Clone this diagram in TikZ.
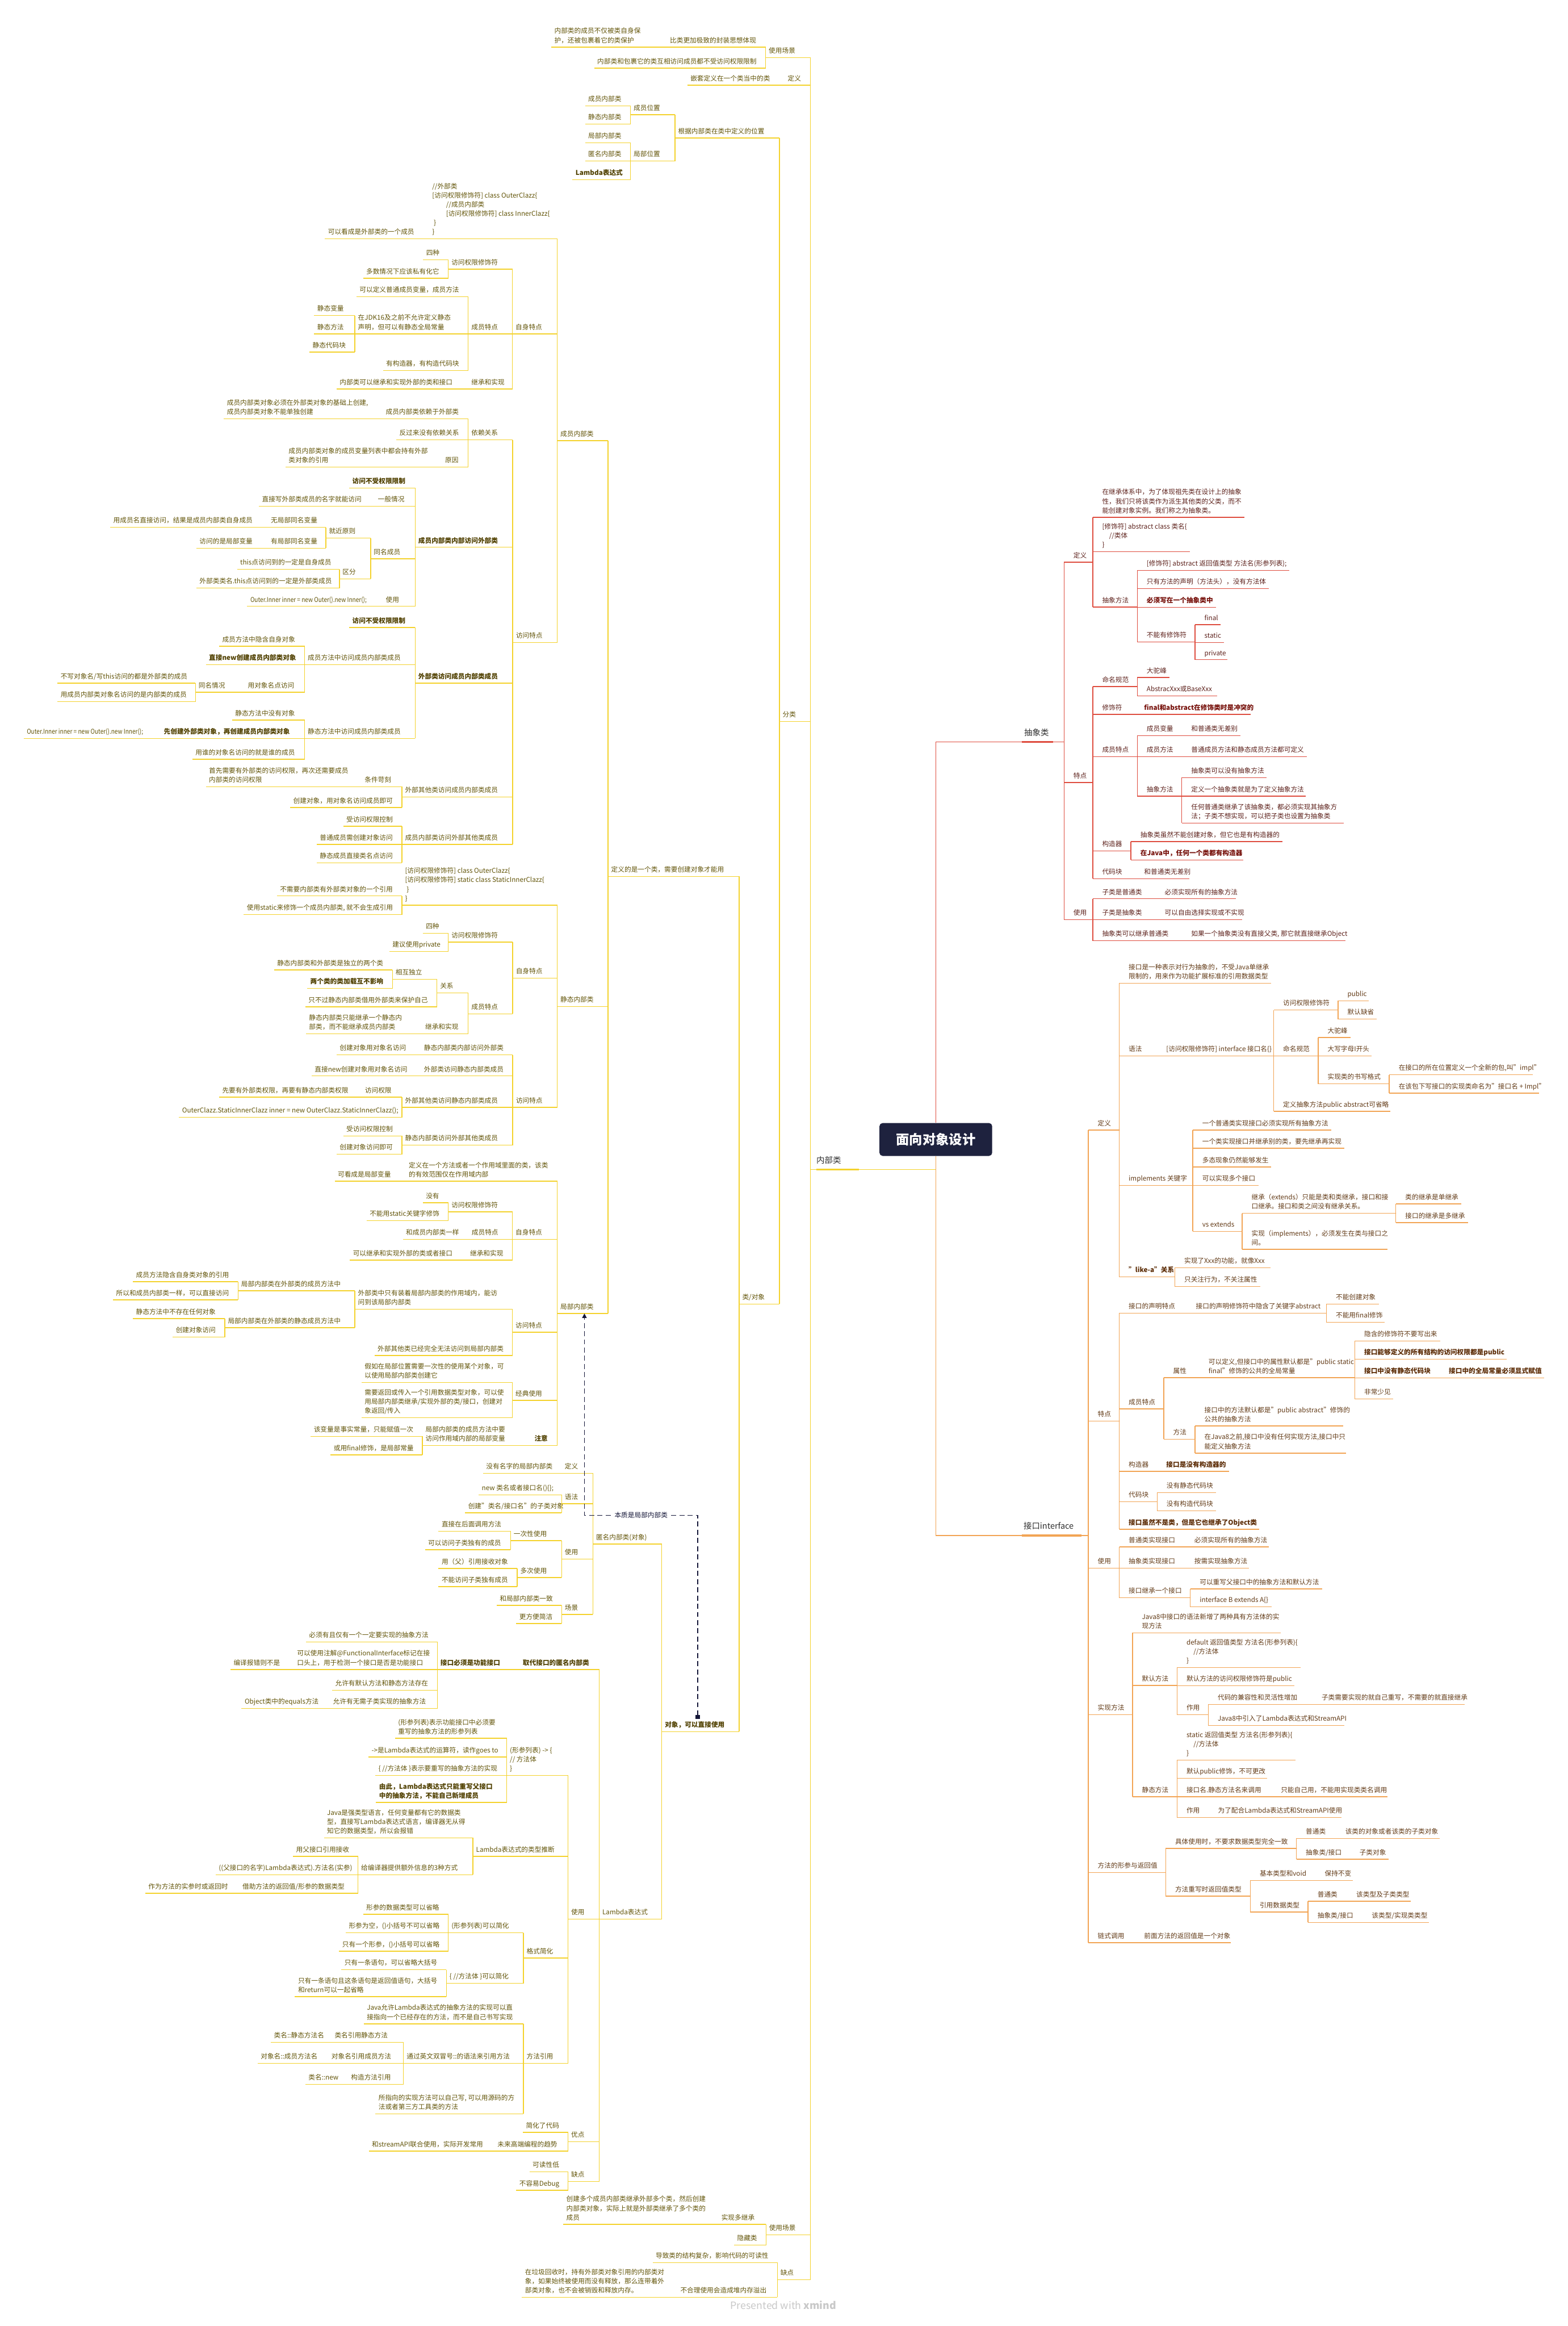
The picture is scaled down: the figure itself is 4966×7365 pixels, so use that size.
\documentclass[tikz,border=0pt]{standalone}
\usepackage{fontspec}
\usepackage{graphicx}
\setmainfont{Noto Sans CJK SC}
\usetikzlibrary{arrows.meta}
\definecolor{ltx}{RGB}{98,84,8}
\definecolor{ltbx}{RGB}{80,64,0}
\definecolor{ylw}{RGB}{244,210,44}
\definecolor{rtx}{RGB}{92,32,26}
\definecolor{rtbx}{RGB}{118,16,10}
\definecolor{rdl}{RGB}{222,76,62}
\definecolor{itx}{RGB}{98,58,22}
\definecolor{itbx}{RGB}{92,44,6}
\definecolor{orl}{RGB}{242,164,84}
\definecolor{rootc}{RGB}{30,34,62}
\definecolor{relc}{RGB}{20,22,56}
\definecolor{brx}{RGB}{45,45,45}
\definecolor{wmc}{RGB}{200,200,200}
\tikzset{
 base/.style={anchor=south west, inner xsep=0pt, inner ysep=1.06pt, outer sep=0pt, font=\fontsize{4.2pt}{5.8pt}\selectfont},
 lt/.style={base, text=ltx},
 ltb/.style={base, text=ltbx, font=\fontsize{4.2pt}{5.8pt}\selectfont\bfseries},
 rt/.style={base, text=rtx},
 rtb/.style={base, text=rtbx, font=\fontsize{4.2pt}{5.8pt}\selectfont\bfseries},
 it/.style={base, text=itx},
 itb/.style={base, text=itbx, font=\fontsize{4.2pt}{5.8pt}\selectfont\bfseries},
 lline/.style={draw=ylw, line width=0.5pt},
 rline/.style={draw=rdl, line width=0.5pt},
 iline/.style={draw=orl, line width=0.5pt},
 brn/.style={anchor=south west, inner xsep=0pt, inner ysep=4pt, outer sep=0pt, text depth=0pt, text=brx, font=\fontsize{5.2pt}{6pt}\selectfont},
 root/.style={fill=rootc, text=white, rounded corners=2pt, minimum width=71.4pt, minimum height=20.8pt, font=\fontsize{8.4pt}{10pt}\selectfont\bfseries},
 rel/.style={draw=relc, line width=0.6pt, dash pattern=on 3.2pt off 2pt, {Square[length=2.6pt,width=2.6pt]}-{Triangle[length=2.8pt,width=2.8pt]}},
 lbl/.style={fill=white, text=relc, inner sep=0.6pt, font=\fontsize{4.2pt}{5.8pt}\selectfont}
}
% left-tree node: style, name, parent, xl, xr, y, text
\newcommand\LNd[7]{\pgfmathsetmacro\mkw{(#5-#4-10)*0.2}%
 \node[#1] (#2) at (#4,#6) {\hspace*{2pt}\makebox[\mkw pt][l]{\begin{tabular}[b]{@{}l@{}}#7\end{tabular}}};%
 \draw[lline] (#2.south west) -- (#2.south east);%
 \draw[lline] (#2.south east) |- (#3.south west);}
% right-tree node: text style, line style, name, parent, xl, xr, y, text
\newcommand\RNd[8]{\pgfmathsetmacro\mkw{(#6-#5-30)*0.2}%
 \node[#1] (#3) at (#5,#7) {\hspace*{6pt}\makebox[\mkw pt][l]{\begin{tabular}[b]{@{}l@{}}#8\end{tabular}}};%
 \draw[#2] (#3.south west) -- (#3.south east);%
 \draw[#2] (#3.south west) |- (#4.south east);}
\newcommand\narrow[1]{\scalebox{0.86}[1]{#1}}
\begin{document}
\begin{tikzpicture}[x=0.2pt,y=-0.2pt]
\useasboundingbox (0,0) rectangle (4966,7365);
% root and main branches
\node[root] (root) at (2964,3608) {面向对象设计};
\node[brn] (I0) at (2567,3703) {\hspace*{3.8pt}\makebox[31.8pt][l]{内部类}};
\node[brn] (B0) at (3222,2349) {\hspace*{4.4pt}\makebox[25.2pt][l]{抽象类}};
\node[brn] (C0) at (3222,4862) {\hspace*{4pt}\makebox[41pt][l]{接口interface}};
\draw[lline] (I0.south west) -- (I0.south east);
\draw[ylw, line width=1.2pt] (I0.south west) ++(19,0) -- ++(135,0);
\draw[rline] (B0.south west) -- (B0.south east);
\draw[rdl, line width=1.2pt] (B0.south west) ++(14,0) -- ++(100,0);
\draw[iline] (C0.south west) -- (C0.south east);
\draw[orl, line width=1.2pt] (C0.south west) ++(14,0) -- ++(190,0);
\draw[lline] (root.south) |- (I0.south east);
\draw[rline] (root.north) |- (B0.south west);
\draw[iline] (root.south) |- (C0.south west);

% ===== 内部类 =====
\LNd{lt}{a1}{I0}{2425}{2567}{182}{使用场景}
\LNd{lt}{a1a}{a1}{2112}{2425}{149}{比类更加极致的封装思想体现}
\LNd{lt}{a1a1}{a1a}{1746}{2112}{149}{内部类的成员不仅被类自身保\\护，还被包裹着它的类保护}
\LNd{lt}{a1b}{a1}{1882}{2425}{216}{内部类和包裹它的类互相访问成员都不受访问权限限制}
\LNd{lt}{a2}{I0}{2485}{2567}{270}{定义}
\LNd{lt}{a2a}{a2}{2177}{2485}{270}{嵌套定义在一个类当中的类}
\LNd{lt}{a3}{I0}{2469}{2567}{2284}{分类}
\LNd{lt}{p0}{a3}{2138}{2469}{437}{根据内部类在类中定义的位置}
\LNd{lt}{p1}{p0}{1997}{2138}{363}{成员位置}
\LNd{lt}{p1a}{p1}{1853}{1997}{335}{成员内部类}
\LNd{lt}{p1b}{p1}{1853}{1997}{393}{静态内部类}
\LNd{lt}{p2}{p0}{1997}{2138}{510}{局部位置}
\LNd{lt}{p2a}{p2}{1853}{1997}{452}{局部内部类}
\LNd{lt}{p2b}{p2}{1853}{1997}{510}{匿名内部类}
\LNd{ltb}{p2c}{p2}{1813}{1997}{569}{Lambda表达式}
\LNd{lt}{q0}{a3}{2341}{2469}{4129}{类/对象}
\LNd{lt}{q1}{q0}{1926}{2341}{2775}{定义的是一个类，需要创建对象才能用}
\LNd{ltb}{q2}{q0}{2096}{2341}{5483}{对象，可以直接使用}
\LNd{lt}{M}{q1}{1765}{1926}{1395}{成员内部类}
\LNd{lt}{S}{q1}{1765}{1926}{3187}{静态内部类}
\LNd{lt}{L}{q1}{1765}{1926}{4159}{局部内部类}
\LNd{lt}{N}{q2}{1878}{2096}{4889}{匿名内部类(对象)}
\LNd{lt}{Lm}{q2}{1898}{2096}{6077}{Lambda表达式}
\LNd{lt}{a4}{I0}{2426}{2567}{7076}{使用场景}
\LNd{lt}{a4a}{a4}{2275}{2426}{7043}{实现多继承}
\LNd{lt}{a4a1}{a4a}{1784}{2275}{7043}{创建多个成员内部类继承外部多个类，然后创建\\内部类对象，实际上就是外部类继承了多个类的\\成员}
\LNd{lt}{a4b}{a4}{2325}{2426}{7109}{隐藏类}
\LNd{lt}{a5}{I0}{2462}{2567}{7218}{缺点}
\LNd{lt}{a5a}{a5}{2067}{2462}{7164}{导致类的结构复杂，影响代码的可读性}
\LNd{lt}{a5b}{a5}{2145}{2462}{7274}{不合理使用会造成堆内存溢出}
\LNd{lt}{a5b1}{a5b}{1653}{2145}{7274}{在垃圾回收时，持有外部类对象引用的内部类对\\象，如果始终被使用而没有释放，那么连带着外\\部类对象，也不会被销毁和释放内存。}

% 成员内部类
\LNd{lt}{m1}{M}{1359}{1765}{756}{//外部类\\{}[访问权限修饰符] class OuterClazz\{\\\hspace*{8.8pt}//成员内部类\\\hspace*{8.8pt}[访问权限修饰符] class InnerClazz\{\\\hspace*{1pt}\}\\\}}
\LNd{lt}{m1a}{m1}{1029}{1359}{756}{可以看成是外部类的一个成员}
\LNd{lt}{m2}{M}{1623}{1765}{1057}{自身特点}
\LNd{lt}{m2a}{m2}{1420}{1623}{852}{访问权限修饰符}
\LNd{lt}{m2a1}{m2a}{1340}{1420}{823}{四种}
\LNd{lt}{m2a2}{m2a}{1150}{1420}{881}{多数情况下应该私有化它}
\LNd{lt}{m2b}{m2}{1483}{1623}{1057}{成员特点}
\LNd{lt}{m2b1}{m2b}{1129}{1483}{940}{可以定义普通成员变量，成员方法}
\LNd{lt}{m2b2}{m2b}{1124}{1483}{1057}{在JDK16及之前不允许定义静态\\声明，但可以有静态全局常量}
\LNd{lt}{m2b2a}{m2b2}{995}{1124}{999}{静态变量}
\LNd{lt}{m2b2b}{m2b2}{995}{1124}{1057}{静态方法}
\LNd{lt}{m2b2c}{m2b2}{980}{1124}{1115}{静态代码块}
\LNd{lt}{m2b3}{m2b}{1213}{1483}{1173}{有构造器，有构造代码块}
\LNd{lt}{m2c}{m2}{1483}{1623}{1232}{继承和实现}
\LNd{lt}{m2c1}{m2c}{1066}{1483}{1232}{内部类可以继承和实现外部的类和接口}
\LNd{lt}{m3}{M}{1624}{1765}{2034}{访问特点}
\LNd{lt}{m3a}{m3}{1483}{1624}{1393}{依赖关系}
\LNd{lt}{m3a1}{m3a}{1212}{1483}{1326}{成员内部类依赖于外部类}
\LNd{lt}{m3a1a}{m3a1}{709}{1212}{1326}{成员内部类对象必须在外部类对象的基础上创建,\\成员内部类对象不能单独创建}
\LNd{lt}{m3a2}{m3a}{1255}{1483}{1393}{反过来没有依赖关系}
\LNd{lt}{m3a3}{m3a}{1400}{1483}{1479}{原因}
\LNd{lt}{m3a3a}{m3a3}{904}{1400}{1479}{成员内部类对象的成员变量列表中都会持有外部\\类对象的引用}
\LNd{ltb}{m3b}{m3}{1315}{1624}{1733}{成员内部类内部访问外部类}
\LNd{ltb}{m3b1}{m3b}{1106}{1315}{1545}{访问不受权限限制}
\LNd{lt}{m3b2}{m3b}{1187}{1315}{1603}{一般情况}
\LNd{lt}{m3b2a}{m3b2}{820}{1187}{1603}{直接写外部类成员的名字就能访问}
\LNd{lt}{m3b3}{m3b}{1174}{1315}{1769}{同名成员}
\LNd{lt}{m3b3a}{m3b3}{1032}{1174}{1704}{就近原则}
\LNd{lt}{m3b3a1}{m3b3a}{848}{1032}{1670}{无局部同名变量}
\LNd{lt}{m3b3a1a}{m3b3a1}{349}{848}{1670}{用成员名直接访问，结果是成员内部类自身成员}
\LNd{lt}{m3b3a2}{m3b3a}{848}{1032}{1736}{有局部同名变量}
\LNd{lt}{m3b3a2a}{m3b3a2}{622}{848}{1736}{访问的是局部变量}
\LNd{lt}{m3b3b}{m3b3}{1075}{1174}{1833}{区分}
\LNd{lt}{m3b3b1}{m3b3b}{751}{1075}{1803}{this点访问到的一定是自身成员}
\LNd{lt}{m3b3b2}{m3b3b}{622}{1075}{1862}{外部类类名.this点访问到的一定是外部类成员}
\LNd{lt}{m3b4}{m3b}{1212}{1315}{1920}{使用}
\LNd{lt}{m3b4a}{m3b4}{783}{1212}{1920}{\narrow{Outer.Inner inner = new Outer().new Inner();}}
\LNd{ltb}{m3c}{m3}{1315}{1624}{2163}{外部类访问成员内部类成员}
\LNd{ltb}{m3c1}{m3c}{1106}{1315}{1987}{访问不受权限限制}
\LNd{lt}{m3c2}{m3c}{965}{1315}{2105}{成员方法中访问成员内部类成员}
\LNd{lt}{m3c2a}{m3c2}{694}{965}{2046}{成员方法中隐含自身对象}
\LNd{ltb}{m3c2b}{m3c2}{652}{965}{2105}{直接new创建成员内部类对象}
\LNd{lt}{m3c2c}{m3c2}{775}{965}{2192}{用对象名点访问}
\LNd{lt}{m3c2c1}{m3c2c}{619}{775}{2192}{同名情况}
\LNd{lt}{m3c2c1a}{m3c2c1}{182}{619}{2163}{不写对象名/写this访问的都是外部类的成员}
\LNd{lt}{m3c2c1b}{m3c2c1}{182}{619}{2222}{用成员内部类对象名访问的是内部类的成员}
\LNd{lt}{m3c3}{m3c}{965}{1315}{2338}{静态方法中访问成员内部类成员}
\LNd{lt}{m3c3a}{m3c3}{735}{965}{2280}{静态方法中没有对象}
\LNd{ltb}{m3c3b}{m3c3}{509}{965}{2338}{先创建外部类对象，再创建成员内部类对象}
\LNd{lt}{m3c3b1}{m3c3b}{75}{509}{2338}{\narrow{Outer.Inner inner = new Outer().new Inner();}}
\LNd{lt}{m3c3c}{m3c3}{609}{965}{2404}{用谁的对象名访问的就是谁的成员}
\LNd{lt}{m3d}{m3}{1273}{1624}{2524}{外部其他类访问成员内部类成员}
\LNd{lt}{m3d1}{m3d}{1145}{1273}{2491}{条件苛刻}
\LNd{lt}{m3d1a}{m3d1}{652}{1145}{2491}{首先需要有外部类的访问权限，再次还需要成员\\内部类的访问权限}
\LNd{lt}{m3d2}{m3d}{919}{1273}{2557}{创建对象，用对象名访问成员即可}
\LNd{lt}{m3e}{m3}{1273}{1624}{2674}{成员内部类访问外部其他类成员}
\LNd{lt}{m3e1}{m3e}{1087}{1273}{2616}{受访问权限控制}
\LNd{lt}{m3e2}{m3e}{1003}{1273}{2674}{普通成员需创建对象访问}
\LNd{lt}{m3e3}{m3e}{1003}{1273}{2732}{静态成员直接类名点访问}

% 静态内部类
\LNd{lt}{s1}{S}{1273}{1765}{2866}{{}[访问权限修饰符] class OuterClazz\{\\{}[访问权限修饰符] static class StaticInnerClazz\{\\\hspace*{1pt}\}\\\}}
\LNd{lt}{s1a}{s1}{877}{1273}{2837}{不需要内部类有外部类对象的一个引用}
\LNd{lt}{s1b}{s1}{772}{1273}{2896}{使用static来修饰一个成员内部类, 就不会生成引用}
\LNd{lt}{s2}{S}{1624}{1765}{3097}{自身特点}
\LNd{lt}{s2a}{s2}{1420}{1624}{2983}{访问权限修饰符}
\LNd{lt}{s2a1}{s2a}{1339}{1420}{2955}{四种}
\LNd{lt}{s2a2}{s2a}{1233}{1420}{3013}{建议使用private}
\LNd{lt}{s2b}{s2}{1483}{1624}{3210}{成员特点}
\LNd{lt}{s2b1}{s2b}{1384}{1483}{3144}{关系}
\LNd{lt}{s2b1a}{s2b1}{1243}{1384}{3101}{相互独立}
\LNd{lt}{s2b1a1}{s2b1a}{868}{1243}{3071}{静态内部类和外部类是独立的两个类}
\LNd{ltb}{s2b1a2}{s2b1a}{973}{1243}{3130}{两个类的类加载互不影响}
\LNd{lt}{s2b1b}{s2b1}{967}{1384}{3188}{只不过静态内部类借用外部类来保护自己}
\LNd{lt}{s2b2}{s2b}{1337}{1483}{3273}{继承和实现}
\LNd{lt}{s2b2a}{s2b2}{969}{1337}{3273}{静态内部类只能继承一个静态内\\部类，而不能继承成员内部类}
\LNd{lt}{s3}{S}{1624}{1765}{3506}{访问特点}
\LNd{lt}{s3a}{s3}{1333}{1624}{3340}{静态内部类内部访问外部类}
\LNd{lt}{s3a1}{s3a}{1066}{1333}{3340}{创建对象用对象名访问}
\LNd{lt}{s3b}{s3}{1333}{1624}{3407}{外部类访问静态内部类成员}
\LNd{lt}{s3b1}{s3b}{987}{1333}{3407}{直接new创建对象用对象名访问}
\LNd{lt}{s3c}{s3}{1273}{1624}{3506}{外部其他类访问静态内部类成员}
\LNd{lt}{s3c1}{s3c}{1146}{1273}{3474}{访问权限}
\LNd{lt}{s3c1a}{s3c1}{694}{1146}{3474}{先要有外部类权限，再要有静态内部类权限}
\LNd{lt}{s3c2}{s3c}{567}{1273}{3538}{OuterClazz.StaticInnerClazz inner = new OuterClazz.StaticInnerClazz();}
\LNd{lt}{s3d}{s3}{1273}{1624}{3626}{静态内部类访问外部其他类成员}
\LNd{lt}{s3d1}{s3d}{1087}{1273}{3597}{受访问权限控制}
\LNd{lt}{s3d2}{s3d}{1066}{1273}{3655}{创建对象访问即可}

% 局部内部类
\LNd{lt}{l1}{L}{1285}{1765}{3740}{定义在一个方法或者一个作用域里面的类，该类\\的有效范围仅在作用域内部}
\LNd{lt}{l1a}{l1}{1060}{1285}{3740}{可看成是局部变量}
\LNd{lt}{l2}{L}{1623}{1765}{3924}{自身特点}
\LNd{lt}{l2a}{l2}{1420}{1623}{3837}{访问权限修饰符}
\LNd{lt}{l2a1}{l2a}{1339}{1420}{3808}{没有}
\LNd{lt}{l2a2}{l2a}{1161}{1420}{3865}{不能用static关键字修饰}
\LNd{lt}{l2b}{l2}{1484}{1623}{3924}{成员特点}
\LNd{lt}{l2b1}{l2b}{1276}{1484}{3924}{和成员内部类一样}
\LNd{lt}{l2c}{l2}{1479}{1623}{3990}{继承和实现}
\LNd{lt}{l2c1}{l2c}{1108}{1479}{3990}{可以继承和实现外部的类或者接口}
\LNd{lt}{l3}{L}{1623}{1765}{4218}{访问特点}
\LNd{lt}{l3a}{l3}{1124}{1623}{4145}{外部类中只有装着局部内部类的作用域内，能访\\问到该局部内部类}
\LNd{lt}{l3a1}{l3a}{754}{1124}{4087}{局部内部类在外部类的成员方法中}
\LNd{lt}{l3a1a}{l3a1}{421}{754}{4058}{成员方法隐含自身类对象的引用}
\LNd{lt}{l3a1b}{l3a1}{358}{754}{4116}{所以和成员内部类一样，可以直接访问}
\LNd{lt}{l3a2}{l3a}{712}{1124}{4204}{局部内部类在外部类的静态成员方法中}
\LNd{lt}{l3a2a}{l3a2}{421}{712}{4175}{静态方法中不存在任何对象}
\LNd{lt}{l3a2b}{l3a2}{547}{712}{4234}{创建对象访问}
\LNd{lt}{l3b}{l3}{1186}{1623}{4292}{外部其他类已经完全无法访问到局部内部类}
\LNd{lt}{l4}{L}{1623}{1765}{4434}{经典使用}
\LNd{lt}{l4a}{l4}{1145}{1623}{4377}{假如在局部位置需要一次性的使用某个对象，可\\以使用局部内部类创建它}
\LNd{lt}{l4b}{l4}{1145}{1623}{4489}{需要返回或传入一个引用数据类型对象，可以使\\用局部内部类继承/实现外部的类/接口，创建对\\象返回/传入}
\LNd{ltb}{l5}{L}{1683}{1765}{4577}{注意}
\LNd{lt}{l5a}{l5}{1338}{1683}{4577}{局部内部类的成员方法中要\\访问作用域内部的局部变量}
\LNd{lt}{l5a1}{l5a}{984}{1338}{4548}{该变量是事实常量，只能赋值一次}
\LNd{lt}{l5a2}{l5a}{1047}{1338}{4607}{或用final修饰，是局部常量}

% 匿名内部类(对象)
\LNd{lt}{n1}{N}{1779}{1878}{4665}{定义}
\LNd{lt}{n1a}{n1}{1530}{1779}{4665}{没有名字的局部内部类}
\LNd{lt}{n2}{N}{1779}{1878}{4761}{语法}
\LNd{lt}{n2a}{n2}{1516}{1779}{4733}{new 类名或者接口名()\{\};}
\LNd{lt}{n2b}{n2}{1473}{1779}{4790}{创建"类名/接口名"的子类对象}
\LNd{lt}{n3}{N}{1779}{1878}{4937}{使用}
\LNd{lt}{n3a}{n3}{1617}{1779}{4878}{一次性使用}
\LNd{lt}{n3a1}{n3a}{1389}{1617}{4848}{直接在后面调用方法}
\LNd{lt}{n3a2}{n3a}{1346}{1617}{4907}{可以访问子类独有的成员}
\LNd{lt}{n3b}{n3}{1638}{1779}{4995}{多次使用}
\LNd{lt}{n3b1}{n3b}{1389}{1638}{4966}{用（父）引用接收对象}
\LNd{lt}{n3b2}{n3b}{1389}{1638}{5024}{不能访问子类独有成员}
\LNd{lt}{n4}{N}{1779}{1878}{5112}{场景}
\LNd{lt}{n4a}{n4}{1573}{1779}{5083}{和局部内部类一致}
\LNd{lt}{n4b}{n4}{1635}{1779}{5141}{更方便简洁}

% Lambda表达式
\LNd{ltb}{k1}{Lm}{1646}{1898}{5286}{取代接口的匿名内部类}
\LNd{ltb}{k1a}{k1}{1385}{1646}{5286}{接口必须是功能接口}
\LNd{lt}{k1a1}{k1a}{969}{1385}{5199}{必须有且仅有一个一定要实现的抽象方法}
\LNd{lt}{k1a2}{k1a}{931}{1385}{5286}{可以使用注解@FunctionalInterface标记在接\\口头上，用于检测一个接口是否是功能接口}
\LNd{lt}{k1a2a}{k1a2}{730}{931}{5286}{编译报错则不是}
\LNd{lt}{k1a3}{k1a}{1052}{1385}{5352}{允许有默认方法和静态方法存在}
\LNd{lt}{k1a4}{k1a}{1045}{1385}{5410}{允许有无需子类实现的抽象方法}
\LNd{lt}{k1a4a}{k1a4}{765}{1045}{5410}{Object类中的equals方法}
\LNd{lt}{k2}{Lm}{1799}{1898}{6077}{使用}
\LNd{lt}{k2a}{k2}{1605}{1799}{5622}{(形参列表) -> \{\\// 方法体\\\}}
\LNd{lt}{k2a1}{k2a}{1251}{1605}{5504}{(形参列表)表示功能接口中必须要\\重写的抽象方法的形参列表}
\LNd{lt}{k2a2}{k2a}{1167}{1605}{5563}{->是Lambda表达式的运算符，读作goes to}
\LNd{lt}{k2a3}{k2a}{1189}{1605}{5622}{\{ //方法体 \}表示要重写的抽象方法的实现}
\LNd{ltb}{k2a4}{k2a}{1191}{1605}{5707}{由此，Lambda表达式只能重写父接口\\中的抽象方法，不能自己新增成员}
\LNd{lt}{k2b}{k2}{1498}{1799}{5878}{Lambda表达式的类型推断}
\LNd{lt}{k2b1}{k2b}{1026}{1498}{5819}{Java是强类型语言，任何变量都有它的数据类\\型，直接写Lambda表达式语言，编译器无从得\\知它的数据类型，所以会报错}
\LNd{lt}{k2b2}{k2b}{1134}{1498}{5936}{给编译器提供额外信息的3种方式}
\LNd{lt}{k2b2a}{k2b2}{928}{1134}{5878}{用父接口引用接收}
\LNd{lt}{k2b2b}{k2b2}{683}{1134}{5936}{((父接口的名字)Lambda表达式).方法名(实参)}
\LNd{lt}{k2b2c}{k2b2}{758}{1134}{5995}{借助方法的返回值/形参的数据类型}
\LNd{lt}{k2b2c1}{k2b2c}{460}{758}{5995}{作为方法的实参时或返回时}
\LNd{lt}{k2c}{k2}{1658}{1799}{6200}{格式简化}
\LNd{lt}{k2c1}{k2c}{1420}{1658}{6120}{(形参列表)可以简化}
\LNd{lt}{k2c1a}{k2c1}{1150}{1420}{6061}{形参的数据类型可以省略}
\LNd{lt}{k2c1b}{k2c1}{1095}{1420}{6120}{形参为空，()小括号不可以省略}
\LNd{lt}{k2c1c}{k2c1}{1074}{1420}{6178}{只有一个形参，()小括号可以省略}
\LNd{lt}{k2c2}{k2c}{1414}{1658}{6280}{\{ //方法体 \}可以简化}
\LNd{lt}{k2c2a}{k2c2}{1081}{1414}{6237}{只有一条语句，可以省略大括号}
\LNd{lt}{k2c2b}{k2c2}{934}{1414}{6322}{只有一条语句且这条语句是返回值语句，大括号\\和return可以一起省略}
\LNd{lt}{k2d}{k2}{1658}{1799}{6533}{方法引用}
\LNd{lt}{k2d1}{k2d}{1152}{1658}{6408}{Java允许Lambda表达式的抽象方法的实现可以直\\接指向一个已经存在的方法，而不是自己书写实现}
\LNd{lt}{k2d2}{k2d}{1278}{1658}{6533}{通过英文双冒号::的语法来引用方法}
\LNd{lt}{k2d2a}{k2d2}{1050}{1278}{6467}{类名引用静态方法}
\LNd{lt}{k2d2a1}{k2d2a}{858}{1050}{6467}{类名::静态方法名}
\LNd{lt}{k2d2b}{k2d2}{1040}{1278}{6533}{对象名引用成员方法}
\LNd{lt}{k2d2b1}{k2d2b}{816}{1040}{6533}{对象名::成员方法名}
\LNd{lt}{k2d2c}{k2d2}{1102}{1278}{6600}{构造方法引用}
\LNd{lt}{k2d2c1}{k2d2c}{967}{1102}{6600}{类名::new}
\LNd{lt}{k2d3}{k2d}{1189}{1658}{6693}{所指向的实现方法可以自己写, 可以用源码的方\\法或者第三方工具类的方法}
\LNd{lt}{k3}{Lm}{1799}{1898}{6781}{优点}
\LNd{lt}{k3a}{k3}{1656}{1799}{6752}{简化了代码}
\LNd{lt}{k3b}{k3}{1566}{1799}{6811}{未来高端编程的趋势}
\LNd{lt}{k3b1}{k3b}{1168}{1566}{6811}{和streamAPI联合使用，实际开发常用}
\LNd{lt}{k4}{Lm}{1799}{1898}{6907}{缺点}
\LNd{lt}{k4a}{k4}{1677}{1799}{6877}{可读性低}
\LNd{lt}{k4b}{k4}{1635}{1799}{6935}{不容易Debug}

% relation
\path (q2.north west) ++(114,0) coordinate (relS);
\path (L.south west) ++(86,0) coordinate (relE);
\coordinate (relB) at (1851,4798);
\draw[rel] (relS) |- node[pos=0.75, lbl] {本质是局部内部类} (relB) -- (relE);

% ===== 抽象类 =====
\RNd{rt}{rline}{b1}{B0}{3370}{3461}{1780}{定义}
\RNd{rt}{rline}{b1a}{b1}{3461}{3941}{1638}{在继承体系中，为了体现祖先类在设计上的抽象\\性，我们只将该类作为派生其他类的父类，而不\\能创建对象实例。我们称之为抽象类。}
\RNd{rt}{rline}{b1b}{b1}{3461}{3768}{1747}{{}[修饰符] abstract class 类名\{\\\hspace*{4.4pt}//类体\\\}}
\RNd{rt}{rline}{b1c}{b1}{3461}{3602}{1922}{抽象方法}
\RNd{rt}{rline}{b1c1}{b1c}{3602}{4083}{1806}{{}[修饰符] abstract 返回值类型 方法名(形参列表);}
\RNd{rt}{rline}{b1c2}{b1c}{3602}{4019}{1864}{只有方法的声明（方法头），没有方法体}
\RNd{rtb}{rline}{b1c3}{b1c}{3602}{3851}{1923}{必须写在一个抽象类中}
\RNd{rt}{rline}{b1c4}{b1c}{3602}{3785}{2033}{不能有修饰符}
\RNd{rt}{rline}{b1c4a}{b1c4}{3785}{3866}{1978}{final}
\RNd{rt}{rline}{b1c4b}{b1c4}{3785}{3876}{2034}{static}
\RNd{rt}{rline}{b1c4c}{b1c4}{3785}{3888}{2089}{private}
\RNd{rt}{rline}{b2}{B0}{3370}{3461}{2478}{特点}
\RNd{rt}{rline}{b2a}{b2}{3461}{3602}{2174}{命名规范}
\RNd{rt}{rline}{b2a1}{b2a}{3602}{3704}{2145}{大驼峰}
\RNd{rt}{rline}{b2a2}{b2a}{3602}{3855}{2204}{AbstracXxx或BaseXxx}
\RNd{rt}{rline}{b2b}{b2}{3461}{3594}{2262}{修饰符}
\RNd{rtb}{rline}{b2b1}{b2b}{3594}{3961}{2262}{final和abstract在修饰类时是冲突的}
\RNd{rt}{rline}{b2c}{b2}{3461}{3602}{2396}{成员特点}
\RNd{rt}{rline}{b2c1}{b2c}{3602}{3743}{2329}{成员变量}
\RNd{rt}{rline}{b2c1a}{b2c1}{3743}{3929}{2329}{和普通类无差别}
\RNd{rt}{rline}{b2c2}{b2c}{3602}{3743}{2396}{成员方法}
\RNd{rt}{rline}{b2c2a}{b2c2}{3743}{4139}{2396}{普通成员方法和静态成员方法都可定义}
\RNd{rt}{rline}{b2c3}{b2c}{3602}{3743}{2521}{抽象方法}
\RNd{rt}{rline}{b2c3a}{b2c3}{3743}{4012}{2462}{抽象类可以没有抽象方法}
\RNd{rt}{rline}{b2c3b}{b2c3}{3743}{4136}{2521}{定义一个抽象类就是为了定义抽象方法}
\RNd{rt}{rline}{b2c3c}{b2c3}{3743}{4256}{2606}{任何普通类继承了该抽象类，都必须实现其抽象方\\法；子类不想实现，可以把子类也设置为抽象类}
\RNd{rt}{rline}{b2d}{b2}{3461}{3582}{2694}{构造器}
\RNd{rt}{rline}{b2d1}{b2d}{3582}{4061}{2665}{抽象类虽然不能创建对象，但它也是有构造器的}
\RNd{rtb}{rline}{b2d2}{b2d}{3582}{3938}{2723}{在Java中，任何一个类都有构造器}
\RNd{rt}{rline}{b2e}{b2}{3461}{3594}{2782}{代码块}
\RNd{rt}{rline}{b2e1}{b2e}{3594}{3767}{2782}{和普通类无差别}
\RNd{rt}{rline}{b3}{B0}{3370}{3461}{2912}{使用}
\RNd{rt}{rline}{b3a}{b3}{3461}{3659}{2846}{子类是普通类}
\RNd{rt}{rline}{b3a1}{b3a}{3659}{3914}{2846}{必须实现所有的抽象方法}
\RNd{rt}{rline}{b3b}{b3}{3461}{3659}{2912}{子类是抽象类}
\RNd{rt}{rline}{b3b1}{b3b}{3659}{3935}{2912}{可以自由选择实现或不实现}
\RNd{rt}{rline}{b3c}{b3}{3461}{3743}{2979}{抽象类可以继承普通类}
\RNd{rt}{rline}{b3c1}{b3c}{3743}{4262}{2979}{如果一个抽象类没有直接父类, 那它就直接继承Object}

% ===== 接口interface =====
\RNd{it}{iline}{c1}{C0}{3447}{3545}{3578}{定义}
\RNd{it}{iline}{c1a}{c1}{3545}{4025}{3113}{接口是一种表示对行为抽象的，不受Java单继承\\限制的，用来作为功能扩展标准的引用数据类型}
\RNd{it}{iline}{c1b}{c1}{3545}{3664}{3344}{语法}
\RNd{it}{iline}{c1b1}{c1b}{3664}{4034}{3344}{{}[访问权限修饰符] interface 接口名\{\}}
\RNd{it}{iline}{c1b1a}{c1b1}{4034}{4238}{3198}{访问权限修饰符}
\RNd{it}{iline}{c1b1a1}{c1b1a}{4238}{4335}{3169}{public}
\RNd{it}{iline}{c1b1a2}{c1b1a}{4238}{4361}{3227}{默认缺省}
\RNd{it}{iline}{c1b1b}{c1b1}{4034}{4175}{3344}{命名规范}
\RNd{it}{iline}{c1b1b1}{c1b1b}{4175}{4277}{3285}{大驼峰}
\RNd{it}{iline}{c1b1b2}{c1b1b}{4175}{4344}{3344}{大写字母I开头}
\RNd{it}{iline}{c1b1b3}{c1b1b}{4175}{4400}{3432}{实现类的书写格式}
\RNd{it}{iline}{c1b1b3a}{c1b1b3}{4400}{4855}{3403}{在接口的所在位置定义一个全新的包,叫”impl”}
\RNd{it}{iline}{c1b1b3b}{c1b1b3}{4400}{4875}{3461}{在该包下写接口的实现类命名为”接口名 + Impl”}
\RNd{it}{iline}{c1b1c}{c1b1}{4034}{4404}{3519}{定义抽象方法public abstract可省略}
\RNd{it}{iline}{c1c}{c1}{3545}{3778}{3753}{implements 关键字}
\RNd{it}{iline}{c1c1}{c1c}{3778}{4216}{3578}{一个普通类实现接口必须实现所有抽象方法}
\RNd{it}{iline}{c1c2}{c1c}{3778}{4258}{3636}{一个类实现接口并继承别的类，要先继承再实现}
\RNd{it}{iline}{c1c3}{c1c}{3778}{4026}{3695}{多态现象仍然能够发生}
\RNd{it}{iline}{c1c4}{c1c}{3778}{3987}{3753}{可以实现多个接口}
\RNd{it}{iline}{c1c5}{c1c}{3778}{3934}{3899}{vs extends}
\RNd{it}{iline}{c1c5a}{c1c5}{3934}{4421}{3842}{继承（extends）只能是类和类继承，接口和接\\口继承。接口和类之间没有继承关系。}
\RNd{it}{iline}{c1c5a1}{c1c5a}{4421}{4628}{3812}{类的继承是单继承}
\RNd{it}{iline}{c1c5a2}{c1c5a}{4421}{4649}{3871}{接口的继承是多继承}
\RNd{it}{iline}{c1c5b}{c1c5}{3934}{4394}{3956}{实现（implements），必须发生在类与接口之\\间。}
\RNd{itb}{iline}{c1d}{c1}{3545}{3721}{4043}{”like-a”关系}
\RNd{it}{iline}{c1d1}{c1d}{3721}{4024}{4014}{实现了Xxx的功能，就像Xxx}
\RNd{it}{iline}{c1d2}{c1d}{3721}{3991}{4073}{只关注行为，不关注属性}
\RNd{it}{iline}{c2}{C0}{3447}{3545}{4500}{特点}
\RNd{it}{iline}{c2a}{c2}{3545}{3758}{4158}{接口的声明特点}
\RNd{it}{iline}{c2a1}{c2a}{3758}{4201}{4158}{接口的声明修饰符中隐含了关键字abstract}
\RNd{it}{iline}{c2a1a}{c2a1}{4201}{4367}{4129}{不能创建对象}
\RNd{it}{iline}{c2a1b}{c2a1}{4201}{4386}{4187}{不能用final修饰}
\RNd{it}{iline}{c2b}{c2}{3545}{3686}{4461}{成员特点}
\RNd{it}{iline}{c2b1}{c2b}{3686}{3798}{4362}{属性}
\RNd{it}{iline}{c2b1a}{c2b1}{3798}{4291}{4362}{可以定义,但接口中的属性默认都是”public static\\final”修饰的公共的全局常量}
\RNd{it}{iline}{c2b1a1}{c2b1a}{4291}{4561}{4246}{隐含的修饰符不要写出来}
\RNd{itb}{iline}{c2b1a2}{c2b1a}{4291}{4772}{4304}{接口能够定义的所有结构的访问权限都是public}
\RNd{itb}{iline}{c2b1a3}{c2b1a}{4291}{4559}{4363}{接口中没有静态代码块}
\RNd{itb}{iline}{c2b1a3a}{c2b1a3}{4559}{4891}{4363}{接口中的全局常量必须显式赋值}
\RNd{it}{iline}{c2b1a4}{c2b1a}{4291}{4413}{4430}{非常少见}
\RNd{it}{iline}{c2b2}{c2b}{3686}{3785}{4557}{方法}
\RNd{it}{iline}{c2b2a}{c2b2}{3785}{4254}{4515}{接口中的方法默认都是”public abstract”修饰的\\公共的抽象方法}
\RNd{it}{iline}{c2b2b}{c2b2}{3785}{4263}{4601}{在Java8之前,接口中没有任何实现方法,接口中只\\能定义抽象方法}
\RNd{it}{iline}{c2c}{c2}{3545}{3664}{4659}{构造器}
\RNd{itb}{iline}{c2c1}{c2c}{3664}{3893}{4659}{接口是没有构造器的}
\RNd{it}{iline}{c2d}{c2}{3545}{3665}{4755}{代码块}
\RNd{it}{iline}{c2d1}{c2d}{3665}{3851}{4726}{没有静态代码块}
\RNd{it}{iline}{c2d2}{c2d}{3665}{3851}{4784}{没有构造代码块}
\RNd{itb}{iline}{c2e}{c2}{3545}{3988}{4842}{接口虽然不是类，但是它也继承了Object类}
\RNd{it}{iline}{c3}{C0}{3447}{3545}{4965}{使用}
\RNd{it}{iline}{c3a}{c3}{3545}{3753}{4898}{普通类实现接口}
\RNd{it}{iline}{c3a1}{c3a}{3753}{4019}{4898}{必须实现所有的抽象方法}
\RNd{it}{iline}{c3b}{c3}{3545}{3753}{4965}{抽象类实现接口}
\RNd{it}{iline}{c3b1}{c3b}{3753}{3955}{4965}{按需实现抽象方法}
\RNd{it}{iline}{c3c}{c3}{3545}{3770}{5059}{接口继承一个接口}
\RNd{it}{iline}{c3c1}{c3c}{3770}{4187}{5031}{可以重写父接口中的抽象方法和默认方法}
\RNd{it}{iline}{c3c2}{c3c}{3770}{4027}{5088}{interface B extends A\{\}}
\RNd{it}{iline}{c4}{C0}{3447}{3587}{5429}{实现方法}
\RNd{it}{iline}{c4a}{c4}{3587}{4056}{5170}{Java8中接口的语法新增了两种具有方法体的实\\现方法}
\RNd{it}{iline}{c4b}{c4}{3587}{3728}{5337}{默认方法}
\RNd{it}{iline}{c4b1}{c4b}{3728}{4120}{5280}{default 返回值类型 方法名(形参列表)\{\\\hspace*{4.4pt}//方法体\\\}}
\RNd{it}{iline}{c4b2}{c4b}{3728}{4099}{5338}{默认方法的访问权限修饰符是public}
\RNd{it}{iline}{c4b3}{c4b}{3728}{3827}{5429}{作用}
\RNd{it}{iline}{c4b3a}{c4b3}{3827}{4156}{5397}{代码的兼容性和灵活性增加}
\RNd{it}{iline}{c4b3a1}{c4b3a}{4156}{4639}{5397}{子类需要实现的就自己重写，不需要的就直接继承}
\RNd{it}{iline}{c4b3b}{c4b3}{3827}{4258}{5463}{Java8中引入了Lambda表达式和StreamAPI}
\RNd{it}{iline}{c4c}{c4}{3587}{3728}{5689}{静态方法}
\RNd{it}{iline}{c4c1}{c4c}{3728}{4104}{5573}{static 返回值类型 方法名(形参列表)\{\\\hspace*{4.4pt}//方法体\\\}}
\RNd{it}{iline}{c4c2}{c4c}{3728}{4014}{5631}{默认public修饰，不可更改}
\RNd{it}{iline}{c4c3}{c4c}{3728}{4027}{5689}{接口名.静态方法名来调用}
\RNd{it}{iline}{c4c3a}{c4c3}{4027}{4395}{5689}{只能自己用，不能用实现类类名调用}
\RNd{it}{iline}{c4c4}{c4c}{3728}{3828}{5755}{作用}
\RNd{it}{iline}{c4c4a}{c4c4}{3828}{4248}{5755}{为了配合Lambda表达式和StreamAPI使用}
\RNd{it}{iline}{c5}{C0}{3447}{3692}{5929}{方法的形参与返回值}
\RNd{it}{iline}{c5a}{c5}{3692}{4106}{5853}{具体使用时，不要求数据类型完全一致}
\RNd{it}{iline}{c5a1}{c5a}{4106}{4231}{5821}{普通类}
\RNd{it}{iline}{c5a1a}{c5a1}{4231}{4559}{5821}{该类的对象或者该类的子类对象}
\RNd{it}{iline}{c5a2}{c5a}{4106}{4276}{5887}{抽象类/接口}
\RNd{it}{iline}{c5a2a}{c5a2}{4276}{4398}{5887}{子类对象}
\RNd{it}{iline}{c5b}{c5}{3692}{3960}{6004}{方法重写时返回值类型}
\RNd{it}{iline}{c5b1}{c5b}{3960}{4166}{5954}{基本类型和void}
\RNd{it}{iline}{c5b1a}{c5b1}{4166}{4284}{5954}{保持不变}
\RNd{it}{iline}{c5b2}{c5b}{3960}{4143}{6054}{引用数据类型}
\RNd{it}{iline}{c5b2a}{c5b2}{4143}{4266}{6020}{普通类}
\RNd{it}{iline}{c5b2a1}{c5b2a}{4266}{4469}{6020}{该类型及子类类型}
\RNd{it}{iline}{c5b2b}{c5b2}{4143}{4315}{6087}{抽象类/接口}
\RNd{it}{iline}{c5b2b1}{c5b2b}{4315}{4526}{6087}{该类型/实现类类型}
\RNd{it}{iline}{c6}{C0}{3447}{3594}{6151}{链式调用}
\RNd{it}{iline}{c6a}{c6}{3594}{3899}{6151}{前面方法的返回值是一个对象}

\node[text=wmc, font=\fontsize{6.4pt}{7pt}\selectfont] (wmk) at (2481,7299) {Presented with \textbf{xmind}};
\end{tikzpicture}
\end{document}
